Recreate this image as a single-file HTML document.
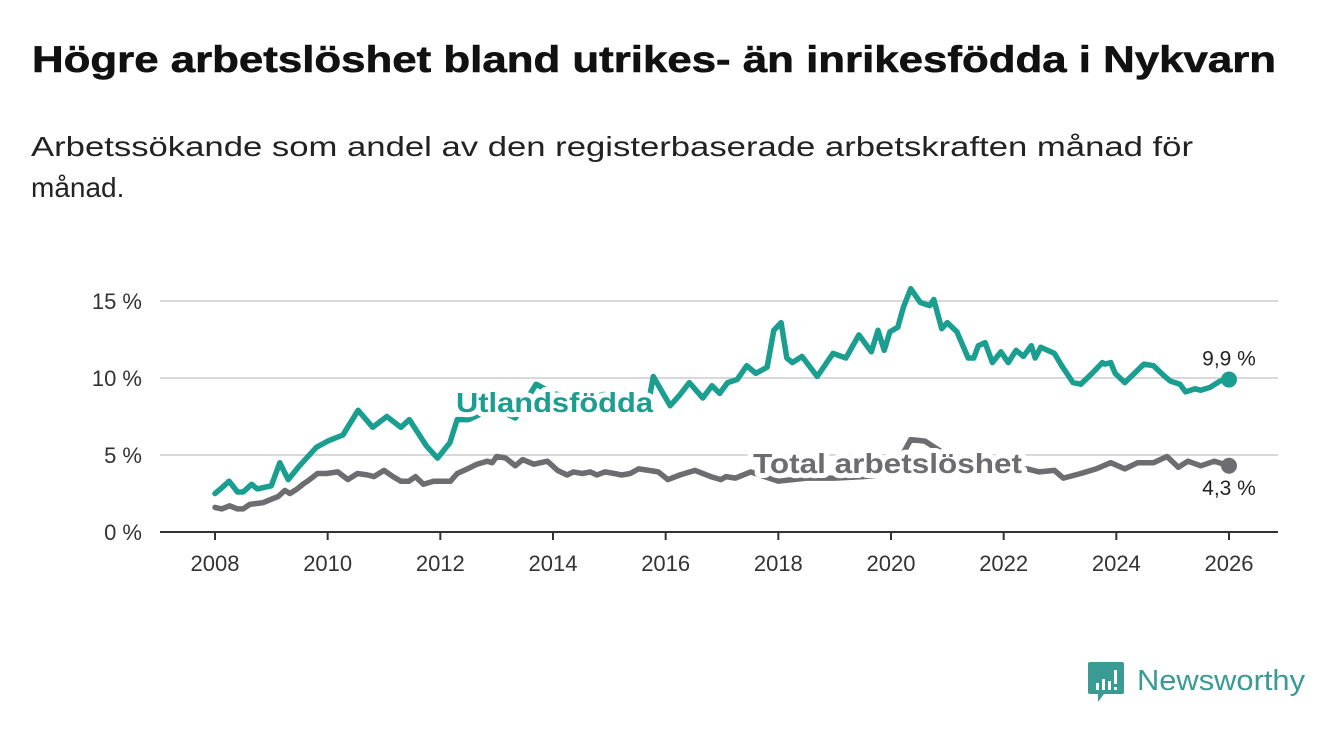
<!DOCTYPE html>
<html><head><meta charset="utf-8">
<style>
html,body{margin:0;padding:0;background:#fff;}
svg{display:block;font-family:"Liberation Sans",sans-serif;}
</style></head>
<body>
<svg id="chart" width="1340" height="734" viewBox="0 0 1340 734" xmlns="http://www.w3.org/2000/svg">
<text x="32" y="72" font-size="37" font-weight="bold" fill="#111" stroke="#111" stroke-width="0.6" textLength="1244" lengthAdjust="spacingAndGlyphs">Högre arbetslöshet bland utrikes- än inrikesfödda i Nykvarn</text>
<text x="31" y="156" font-size="28" fill="#222" textLength="1162" lengthAdjust="spacingAndGlyphs">Arbetssökande som andel av den registerbaserade arbetskraften månad för</text>
<text x="31" y="197" font-size="28" fill="#222">månad.</text>
<g id="grid"></g>
<g id="xaxis"></g>
<g id="series"></g>
<g id="labels"></g>
<g>
<path d="M1090 662 h32 a2 2 0 0 1 2 2 v28 a2 2 0 0 1 -2 2 h-18 l-6 8 v-8 h-8 a2 2 0 0 1 -2 -2 v-28 a2 2 0 0 1 2 -2z" fill="#3a9a94"/>
<rect x="1096" y="683" width="3" height="7" fill="#fff"/><rect x="1102" y="679" width="3" height="11" fill="#fff"/><rect x="1108" y="681" width="3" height="9" fill="#fff"/><rect x="1114" y="670" width="3" height="14" fill="#fff"/><rect x="1114" y="687" width="3" height="3" fill="#fff"/>
<text x="1137" y="690" font-size="29" fill="#3a9a94" textLength="168" lengthAdjust="spacingAndGlyphs">Newsworthy</text>
</g>
</svg>
<script>
const yTicks = [0, 5, 10, 15];
const yTickLabels = ["0 %", "5 %", "10 %", "15 %"];
const xTicks = [2008, 2010, 2012, 2014, 2016, 2018, 2020, 2022, 2024, 2026];
const utlDates = [2008.0,2008.1,2008.25,2008.4,2008.5,2008.65,2008.75,2009.0,2009.15,2009.3,2009.5,2009.8,2010.0,2010.27,2010.54,2010.8,2011.05,2011.3,2011.45,2011.75,2011.95,2012.17,2012.3,2012.5,2012.8,2013.0,2013.33,2013.7,2014.0,2014.5,2015.0,2015.5,2015.7,2015.78,2016.08,2016.25,2016.42,2016.66,2016.82,2016.96,2017.1,2017.27,2017.44,2017.6,2017.8,2017.92,2018.05,2018.15,2018.25,2018.42,2018.69,2018.97,2019.2,2019.43,2019.65,2019.77,2019.88,2019.98,2020.12,2020.22,2020.35,2020.52,2020.69,2020.76,2020.9,2021.0,2021.17,2021.37,2021.47,2021.55,2021.67,2021.8,2021.95,2022.08,2022.22,2022.35,2022.49,2022.56,2022.66,2022.9,2023.03,2023.23,2023.37,2023.57,2023.75,2023.8,2023.9,2023.98,2024.15,2024.32,2024.49,2024.66,2024.86,2024.96,2025.13,2025.23,2025.4,2025.5,2025.67,2025.84,2026.0];
const utlValues = [2.5,2.8,3.3,2.6,2.6,3.1,2.8,3.0,4.5,3.4,4.3,5.5,5.9,6.3,7.9,6.8,7.5,6.8,7.3,5.6,4.8,5.8,7.3,7.3,7.8,8.0,7.4,9.6,9.0,8.6,9.0,8.3,8.5,10.1,8.2,8.9,9.7,8.7,9.5,9.0,9.7,9.9,10.8,10.3,10.7,13.1,13.6,11.3,11.0,11.4,10.1,11.6,11.3,12.8,11.7,13.1,11.8,13.0,13.3,14.6,15.8,14.9,14.7,15.1,13.2,13.6,13.0,11.3,11.3,12.1,12.3,11.0,11.7,11.0,11.8,11.4,12.1,11.3,12.0,11.6,10.8,9.7,9.6,10.3,11.0,10.9,11.0,10.3,9.7,10.3,10.9,10.8,10.1,9.8,9.6,9.1,9.3,9.2,9.4,9.8,9.9];
const totDates = [2008.0,2008.12,2008.26,2008.4,2008.5,2008.62,2008.85,2008.98,2009.12,2009.24,2009.33,2009.46,2009.56,2009.68,2009.82,2009.98,2010.18,2010.36,2010.53,2010.71,2010.82,2011.0,2011.16,2011.3,2011.44,2011.56,2011.7,2011.88,2012.18,2012.3,2012.48,2012.65,2012.83,2012.92,2013.0,2013.16,2013.33,2013.46,2013.66,2013.9,2014.08,2014.25,2014.36,2014.52,2014.66,2014.78,2014.92,2015.09,2015.22,2015.37,2015.52,2015.7,2015.87,2016.04,2016.25,2016.52,2016.8,2016.98,2017.07,2017.24,2017.51,2018.0,2018.5,2019.0,2019.5,2019.8,2020.2,2020.35,2020.6,2020.9,2021.3,2021.8,2022.2,2022.42,2022.63,2022.9,2023.06,2023.37,2023.64,2023.9,2024.15,2024.38,2024.66,2024.9,2025.1,2025.27,2025.5,2025.74,2026.0];
const totValues = [1.6,1.5,1.7,1.5,1.5,1.8,1.9,2.1,2.3,2.7,2.5,2.8,3.1,3.4,3.8,3.8,3.9,3.4,3.8,3.7,3.6,4.0,3.6,3.3,3.3,3.6,3.1,3.3,3.3,3.8,4.1,4.4,4.6,4.5,4.9,4.8,4.3,4.7,4.4,4.6,4.0,3.7,3.9,3.8,3.9,3.7,3.9,3.8,3.7,3.8,4.1,4.0,3.9,3.4,3.7,4.0,3.6,3.4,3.6,3.5,3.9,3.3,3.5,3.5,3.6,3.7,5.0,6.0,5.9,5.2,4.6,4.3,4.1,4.1,3.9,4.0,3.5,3.8,4.1,4.5,4.1,4.5,4.5,4.9,4.2,4.6,4.3,4.6,4.3];
const lastLabels = ["9,9 %", "4,3 %"];

const NS = "http://www.w3.org/2000/svg";
const X0 = 160, X1 = 1278;
function xScale(d){ return 215 + (d - 2008) * (1229 - 215) / 18; }
function yScale(v){ return 532 - v * (532 - 301) / 15; }
function mk(tag, attrs, parent){ const e = document.createElementNS(NS, tag); for (const k in attrs) e.setAttribute(k, attrs[k]); parent.appendChild(e); return e; }

const grid = document.getElementById('grid');
yTicks.forEach((t, i) => {
  if (t !== 0) {
    const l = mk('line', {x1: X0, x2: X1, y1: yScale(t), y2: yScale(t), stroke: '#d9d9d9', 'stroke-width': 2}, grid);
    
    
  }
  const tx = mk('text', {x: 142, y: yScale(t) + 8, 'font-size': 22, fill: '#333', 'text-anchor': 'end'}, grid);
  tx.textContent = yTickLabels[i];
  
  
});
const xa = document.getElementById('xaxis');
const axl = mk('line', {x1: X0, x2: X1, y1: 532, y2: 532, stroke: '#333', 'stroke-width': 2}, xa);


xTicks.forEach(t => {
  const tk = mk('line', {x1: xScale(t), x2: xScale(t), y1: 532, y2: 540, stroke: '#333', 'stroke-width': 2}, xa);
  
  
  const tx = mk('text', {x: xScale(t), y: 571, 'font-size': 22, fill: '#333', 'text-anchor': 'middle'}, xa);
  tx.textContent = t;
  
  
});

const ser = document.getElementById('series');
function drawLine(dates, vals, color, name){
  const d = dates.map((dt, i) => (i ? 'L' : 'M') + xScale(dt).toFixed(1) + ' ' + yScale(vals[i]).toFixed(1)).join(' ');
  const p = mk('path', {d: d, fill: 'none', stroke: color, 'stroke-width': 5.5, 'stroke-linejoin': 'round', 'stroke-linecap': 'round'}, ser);
  
  
  const n = dates.length - 1;
  const c = mk('circle', {cx: xScale(dates[n]), cy: yScale(vals[n]), r: 8, fill: color}, ser);
  
  
}
drawLine(totDates, totValues, '#6d6c70', 'total');
drawLine(utlDates, utlValues, '#1a9e90', 'utlandsfodda');

const lab = document.getElementById('labels');
function halo(x, y, txt, color, name, len){
  const t = mk('text', {x: x, y: y, 'font-size': 28, 'font-weight': 'bold', fill: color, stroke: '#fff', 'stroke-width': 10, 'paint-order': 'stroke', 'stroke-linejoin': 'round', textLength: len, lengthAdjust: 'spacingAndGlyphs'}, lab);
  t.textContent = txt;
  
  
}
halo(456, 412, 'Utlandsfödda', '#1a9e90', 'utlandsfodda-label', 197);
halo(753, 473, 'Total arbetslöshet', '#6d6c70', 'total-label', 269);
const nUtl = utlDates.length - 1, nTot = totDates.length - 1;
const v1 = mk('text', {x: xScale(utlDates[nUtl]), y: yScale(utlValues[nUtl]) - 14, 'font-size': 21, fill: '#222', 'text-anchor': 'middle'}, lab);
v1.textContent = lastLabels[0];


const v2 = mk('text', {x: xScale(totDates[nTot]), y: yScale(totValues[nTot]) + 29, 'font-size': 21, fill: '#222', 'text-anchor': 'middle'}, lab);
v2.textContent = lastLabels[1];


</script>
</body></html>
